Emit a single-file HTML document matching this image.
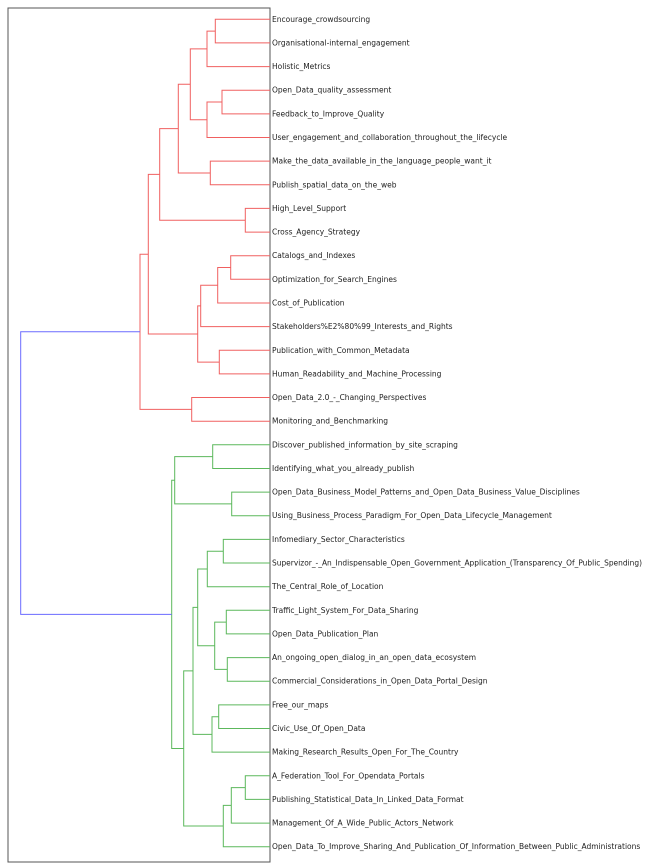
<!DOCTYPE html>
<html><head><meta charset="utf-8"><style>
html,body{margin:0;padding:0;background:#fff;}
svg{display:block;}
text{font-family:"DejaVu Sans","Liberation Sans",sans-serif;font-size:7.5px;fill:#222;dominant-baseline:central;}
</style></head><body>
<svg width="650" height="867" viewBox="0 0 650 867" xmlns="http://www.w3.org/2000/svg">
<rect x="8" y="8" width="262" height="854" fill="none" stroke="#555" stroke-width="1"/>
<g fill="none" stroke="#f06060" stroke-width="1">
<path d="M270 19.3H215.3V42.9H270"/>
<path d="M215.3 31.1H207V66.6H270"/>
<path d="M270 90.2H222V113.9H270"/>
<path d="M222 102.05H207V137.5H270"/>
<path d="M207 48.85H190.3V119.8H207"/>
<path d="M270 161.1H210.3V184.8H270"/>
<path d="M190.3 84.3H178.3V172.95H210.3"/>
<path d="M270 208.4H245.3V232.1H270"/>
<path d="M178.3 128.6H159.7V220.25H245.3"/>
<path d="M270 255.7H230.7V279.3H270"/>
<path d="M230.7 267.5H217.7V303H270"/>
<path d="M217.7 285.25H200.7V326.6H270"/>
<path d="M270 350.3H219.3V373.9H270"/>
<path d="M200.7 305.9H197.7V362.1H219.3"/>
<path d="M159.7 174.4H148.3V334H197.7"/>
<path d="M270 397.5H191.7V421.2H270"/>
<path d="M148.3 254.2H140V409.35H191.7"/>
</g>
<g fill="none" stroke="#5cb85c" stroke-width="1">
<path d="M270 444.8H212.7V468.5H270"/>
<path d="M270 492.1H231.7V515.7H270"/>
<path d="M212.7 456.65H174.7V503.9H231.7"/>
<path d="M270 539.4H223.3V563H270"/>
<path d="M223.3 551.2H207.3V586.7H270"/>
<path d="M270 610.3H226.3V633.9H270"/>
<path d="M270 657.6H227.3V681.2H270"/>
<path d="M226.3 622.1H214.7V669.4H227.3"/>
<path d="M207.3 568.95H197.7V645.75H214.7"/>
<path d="M270 704.9H218.7V728.5H270"/>
<path d="M218.7 716.7H212V752.1H270"/>
<path d="M197.7 607.35H193V734.4H212"/>
<path d="M270 775.8H245.3V799.4H270"/>
<path d="M245.3 787.6H231.3V823.1H270"/>
<path d="M231.3 805.35H223.3V846.7H270"/>
<path d="M193 670.9H183.7V826H223.3"/>
<path d="M174.7 480.3H171.7V748.45H183.7"/>
</g>
<path d="M140 331.8H20.7V614.4H171.7" fill="none" stroke="#6b6bff" stroke-width="1"/>
<g>
<text x="272" y="19.3">Encourage_crowdsourcing</text>
<text x="272" y="42.9">Organisational-internal_engagement</text>
<text x="272" y="66.6">Holistic_Metrics</text>
<text x="272" y="90.2">Open_Data_quality_assessment</text>
<text x="272" y="113.9">Feedback_to_Improve_Quality</text>
<text x="272" y="137.5">User_engagement_and_collaboration_throughout_the_lifecycle</text>
<text x="272" y="161.1">Make_the_data_available_in_the_language_people_want_it</text>
<text x="272" y="184.8">Publish_spatial_data_on_the_web</text>
<text x="272" y="208.4">High_Level_Support</text>
<text x="272" y="232.1">Cross_Agency_Strategy</text>
<text x="272" y="255.7">Catalogs_and_Indexes</text>
<text x="272" y="279.3">Optimization_for_Search_Engines</text>
<text x="272" y="303">Cost_of_Publication</text>
<text x="272" y="326.6">Stakeholders%E2%80%99_Interests_and_Rights</text>
<text x="272" y="350.3">Publication_with_Common_Metadata</text>
<text x="272" y="373.9">Human_Readability_and_Machine_Processing</text>
<text x="272" y="397.5">Open_Data_2.0_-_Changing_Perspectives</text>
<text x="272" y="421.2">Monitoring_and_Benchmarking</text>
<text x="272" y="444.8">Discover_published_information_by_site_scraping</text>
<text x="272" y="468.5">Identifying_what_you_already_publish</text>
<text x="272" y="492.1">Open_Data_Business_Model_Patterns_and_Open_Data_Business_Value_Disciplines</text>
<text x="272" y="515.7">Using_Business_Process_Paradigm_For_Open_Data_Lifecycle_Management</text>
<text x="272" y="539.4">Infomediary_Sector_Characteristics</text>
<text x="272" y="563" textLength="370" lengthAdjust="spacingAndGlyphs">Supervizor_-_An_Indispensable_Open_Government_Application_(Transparency_Of_Public_Spending)</text>
<text x="272" y="586.7">The_Central_Role_of_Location</text>
<text x="272" y="610.3">Traffic_Light_System_For_Data_Sharing</text>
<text x="272" y="633.9">Open_Data_Publication_Plan</text>
<text x="272" y="657.6">An_ongoing_open_dialog_in_an_open_data_ecosystem</text>
<text x="272" y="681.2">Commercial_Considerations_in_Open_Data_Portal_Design</text>
<text x="272" y="704.9">Free_our_maps</text>
<text x="272" y="728.5">Civic_Use_Of_Open_Data</text>
<text x="272" y="752.1">Making_Research_Results_Open_For_The_Country</text>
<text x="272" y="775.8">A_Federation_Tool_For_Opendata_Portals</text>
<text x="272" y="799.4">Publishing_Statistical_Data_In_Linked_Data_Format</text>
<text x="272" y="823.1">Management_Of_A_Wide_Public_Actors_Network</text>
<text x="272" y="846.7">Open_Data_To_Improve_Sharing_And_Publication_Of_Information_Between_Public_Administrations</text>
</g>
</svg>
</body></html>
